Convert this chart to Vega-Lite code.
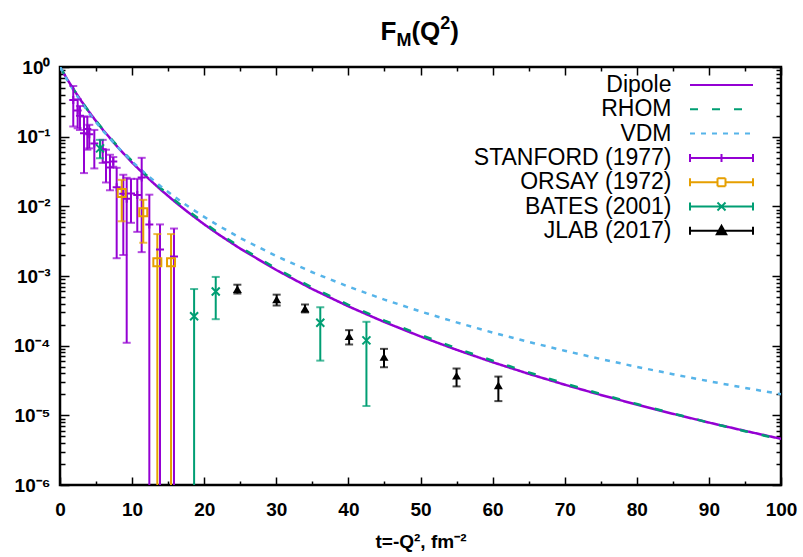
{
  "$schema": "https://vega.github.io/schema/vega-lite/v6.json",
  "width": 721,
  "height": 418,
  "autosize": "none",
  "padding": {"left": 60, "top": 67, "right": 22, "bottom": 72},
  "background": "white",
  "datasets": {
    "curves": [
      {"series": "Dipole", "t": 0, "F": 1},
      {"series": "Dipole", "t": 1, "F": 0.6676},
      {"series": "Dipole", "t": 2, "F": 0.4572},
      {"series": "Dipole", "t": 3, "F": 0.3205},
      {"series": "Dipole", "t": 4, "F": 0.2293},
      {"series": "Dipole", "t": 5, "F": 0.1670},
      {"series": "Dipole", "t": 6, "F": 0.1237},
      {"series": "Dipole", "t": 8, "F": 0.07073},
      {"series": "Dipole", "t": 10, "F": 0.04249},
      {"series": "Dipole", "t": 12, "F": 0.02658},
      {"series": "Dipole", "t": 14, "F": 0.01722},
      {"series": "Dipole", "t": 16, "F": 0.01149},
      {"series": "Dipole", "t": 18, "F": 0.007871},
      {"series": "Dipole", "t": 20, "F": 0.005517},
      {"series": "Dipole", "t": 22, "F": 0.003947},
      {"series": "Dipole", "t": 25, "F": 0.002470},
      {"series": "Dipole", "t": 30, "F": 0.001218},
      {"series": "Dipole", "t": 35, "F": 0.0006483},
      {"series": "Dipole", "t": 40, "F": 0.0003668},
      {"series": "Dipole", "t": 45, "F": 0.0002183},
      {"series": "Dipole", "t": 50, "F": 0.0001356},
      {"series": "Dipole", "t": 55, "F": 0.00008722},
      {"series": "Dipole", "t": 60, "F": 0.00005789},
      {"series": "Dipole", "t": 65, "F": 0.00003946},
      {"series": "Dipole", "t": 70, "F": 0.00002754},
      {"series": "Dipole", "t": 75, "F": 0.00001963},
      {"series": "Dipole", "t": 80, "F": 0.00001425},
      {"series": "Dipole", "t": 85, "F": 0.00001052},
      {"series": "Dipole", "t": 90, "F": 0.000007878},
      {"series": "Dipole", "t": 95, "F": 0.000005984},
      {"series": "Dipole", "t": 100, "F": 0.0000046},
      {"series": "RHOM", "t": 0, "F": 1},
      {"series": "RHOM", "t": 1, "F": 0.6676},
      {"series": "RHOM", "t": 2, "F": 0.4572},
      {"series": "RHOM", "t": 3, "F": 0.3205},
      {"series": "RHOM", "t": 4, "F": 0.2293},
      {"series": "RHOM", "t": 5, "F": 0.1690},
      {"series": "RHOM", "t": 6, "F": 0.1260},
      {"series": "RHOM", "t": 8, "F": 0.0725},
      {"series": "RHOM", "t": 10, "F": 0.0445},
      {"series": "RHOM", "t": 12, "F": 0.0279},
      {"series": "RHOM", "t": 14, "F": 0.01808},
      {"series": "RHOM", "t": 16, "F": 0.01206},
      {"series": "RHOM", "t": 18, "F": 0.00826},
      {"series": "RHOM", "t": 20, "F": 0.00579},
      {"series": "RHOM", "t": 22, "F": 0.004145},
      {"series": "RHOM", "t": 25, "F": 0.002594},
      {"series": "RHOM", "t": 30, "F": 0.001279},
      {"series": "RHOM", "t": 35, "F": 0.0006807},
      {"series": "RHOM", "t": 40, "F": 0.0003851},
      {"series": "RHOM", "t": 45, "F": 0.0002292},
      {"series": "RHOM", "t": 50, "F": 0.0001424},
      {"series": "RHOM", "t": 55, "F": 0.00009158},
      {"series": "RHOM", "t": 60, "F": 0.00006078},
      {"series": "RHOM", "t": 65, "F": 0.00004143},
      {"series": "RHOM", "t": 70, "F": 0.00002864},
      {"series": "RHOM", "t": 75, "F": 0.00002022},
      {"series": "RHOM", "t": 80, "F": 0.00001454},
      {"series": "RHOM", "t": 85, "F": 0.00001063},
      {"series": "RHOM", "t": 90, "F": 0.000007878},
      {"series": "RHOM", "t": 95, "F": 0.000005924},
      {"series": "RHOM", "t": 100, "F": 0.0000045},
      {"series": "VDM", "t": 0, "F": 1},
      {"series": "VDM", "t": 1, "F": 0.6507},
      {"series": "VDM", "t": 2, "F": 0.4395},
      {"series": "VDM", "t": 3, "F": 0.3062},
      {"series": "VDM", "t": 4, "F": 0.2193},
      {"series": "VDM", "t": 5, "F": 0.1606},
      {"series": "VDM", "t": 6, "F": 0.1201},
      {"series": "VDM", "t": 8, "F": 0.07057},
      {"series": "VDM", "t": 10, "F": 0.04388},
      {"series": "VDM", "t": 12, "F": 0.02855},
      {"series": "VDM", "t": 14, "F": 0.01929},
      {"series": "VDM", "t": 16, "F": 0.01344},
      {"series": "VDM", "t": 18, "F": 0.009623},
      {"series": "VDM", "t": 20, "F": 0.00705},
      {"series": "VDM", "t": 22, "F": 0.00527},
      {"series": "VDM", "t": 25, "F": 0.003518},
      {"series": "VDM", "t": 30, "F": 0.001926},
      {"series": "VDM", "t": 35, "F": 0.001132},
      {"series": "VDM", "t": 40, "F": 0.0007041},
      {"series": "VDM", "t": 45, "F": 0.0004581},
      {"series": "VDM", "t": 50, "F": 0.0003094},
      {"series": "VDM", "t": 55, "F": 0.0002158},
      {"series": "VDM", "t": 60, "F": 0.0001544},
      {"series": "VDM", "t": 65, "F": 0.0001131},
      {"series": "VDM", "t": 70, "F": 0.00008455},
      {"series": "VDM", "t": 75, "F": 0.00006432},
      {"series": "VDM", "t": 80, "F": 0.00004969},
      {"series": "VDM", "t": 85, "F": 0.00003896},
      {"series": "VDM", "t": 90, "F": 0.0000309},
      {"series": "VDM", "t": 95, "F": 0.0000248},
      {"series": "VDM", "t": 100, "F": 0.00002011}
    ],
    "points": [
      {"series": "STANFORD (1977)", "t": 1.84, "F": 0.337, "lo": 0.14, "hi": 0.534},
      {"series": "STANFORD (1977)", "t": 2.45, "F": 0.238, "lo": 0.132, "hi": 0.344},
      {"series": "STANFORD (1977)", "t": 2.77, "F": 0.2, "lo": 0.125, "hi": 0.276},
      {"series": "STANFORD (1977)", "t": 3.33, "F": 0.112, "lo": 0.03, "hi": 0.194},
      {"series": "STANFORD (1977)", "t": 3.79, "F": 0.129, "lo": 0.065, "hi": 0.194},
      {"series": "STANFORD (1977)", "t": 4.06, "F": 0.108, "lo": 0.068, "hi": 0.148},
      {"series": "STANFORD (1977)", "t": 4.76, "F": 0.08, "lo": 0.035, "hi": 0.125},
      {"series": "STANFORD (1977)", "t": 5.92, "F": 0.066, "lo": 0.042, "hi": 0.09},
      {"series": "STANFORD (1977)", "t": 6.38, "F": 0.043, "lo": 0.022, "hi": 0.065},
      {"series": "STANFORD (1977)", "t": 6.93, "F": 0.036, "lo": 0.017, "hi": 0.055},
      {"series": "STANFORD (1977)", "t": 7.39, "F": 0.044, "lo": 0.037, "hi": 0.051},
      {"series": "STANFORD (1977)", "t": 7.86, "F": 0.0188, "lo": 0.0018, "hi": 0.0357},
      {"series": "STANFORD (1977)", "t": 8.78, "F": 0.0152, "lo": 0.002, "hi": 0.0284},
      {"series": "STANFORD (1977)", "t": 9.25, "F": 0.0129, "lo": 0.00011, "hi": 0.0257},
      {"series": "STANFORD (1977)", "t": 9.85, "F": 0.0153, "lo": 0.0058, "hi": 0.0248},
      {"series": "STANFORD (1977)", "t": 10.72, "F": 0.0146, "lo": 0.0043, "hi": 0.0248},
      {"series": "STANFORD (1977)", "t": 11.33, "F": 0.026, "lo": 0.0022, "hi": 0.0497},
      {"series": "STANFORD (1977)", "t": 12.39, "F": 0.0055, "lo": 0.00000001, "hi": 0.0147},
      {"series": "STANFORD (1977)", "t": 13.87, "F": 0.0024, "lo": 0.00000001, "hi": 0.0055},
      {"series": "STANFORD (1977)", "t": 15.81, "F": 0.0019, "lo": 0.00000001, "hi": 0.0048},
      {"series": "ORSAY (1972)", "t": 8.56, "F": 0.0155, "lo": 0.0061, "hi": 0.024},
      {"series": "ORSAY (1972)", "t": 11.55, "F": 0.0082, "lo": 0.003, "hi": 0.0124},
      {"series": "ORSAY (1972)", "t": 13.5, "F": 0.00157, "lo": 0.00000001, "hi": 0.004},
      {"series": "ORSAY (1972)", "t": 15.4, "F": 0.00157, "lo": 0.00000001, "hi": 0.004},
      {"series": "BATES (2001)", "t": 5.55, "F": 0.068, "lo": 0.049, "hi": 0.09},
      {"series": "BATES (2001)", "t": 18.6, "F": 0.000265, "lo": 0.00000001, "hi": 0.00065},
      {"series": "BATES (2001)", "t": 21.6, "F": 0.0006, "lo": 0.00024, "hi": 0.00097},
      {"series": "BATES (2001)", "t": 36.1, "F": 0.000213, "lo": 0.000061, "hi": 0.000356},
      {"series": "BATES (2001)", "t": 42.5, "F": 0.000119, "lo": 0.0000136, "hi": 0.00022},
      {"series": "JLAB (2017)", "t": 24.6, "F": 0.00065, "lo": 0.00056, "hi": 0.00075},
      {"series": "JLAB (2017)", "t": 30.05, "F": 0.00046, "lo": 0.000377, "hi": 0.00054},
      {"series": "JLAB (2017)", "t": 33.98, "F": 0.00034, "lo": 0.0003, "hi": 0.00039},
      {"series": "JLAB (2017)", "t": 40.1, "F": 0.000137, "lo": 0.000104, "hi": 0.000167},
      {"series": "JLAB (2017)", "t": 44.94, "F": 0.000069, "lo": 0.000049, "hi": 0.00009},
      {"series": "JLAB (2017)", "t": 55.0, "F": 0.000037, "lo": 0.000026, "hi": 0.000047},
      {"series": "JLAB (2017)", "t": 60.8, "F": 0.000027, "lo": 0.000016, "hi": 0.000036}
    ]
  },
  "layer": [
    {
      "data": {"name": "curves"},
      "mark": {"type": "line", "strokeWidth": 2.5, "clip": true},
      "encoding": {
        "x": {"field": "t", "type": "quantitative",
          "scale": {"domain": [0, 100], "nice": false, "zero": false},
          "axis": {"orient": "bottom", "values": [0, 10, 20, 30, 40, 50, 60, 70, 80, 90, 100], "tickSize": -8, "labelPadding": 23, "labelFlush": false, "title": "t=-Q², fm⁻²", "titlePadding": 13, "titleFontSize": 19}},
        "y": {"field": "F", "type": "quantitative",
          "scale": {"type": "log", "domain": [0.000001, 1], "nice": false},
          "axis": {"orient": "left", "values": [0.000001, 0.00001, 0.0001, 0.001, 0.01, 0.1, 1], "tickSize": -9, "labelPadding": 19, "title": null, "labelFontSize": 19,
            "labelExpr": "'10' + ['⁰','⁻¹','⁻²','⁻³','⁻⁴','⁻⁵','⁻⁶'][round(-log(datum.value)/LN10)]"}},
        "color": {"field": "series", "type": "nominal",
          "scale": {"domain": ["Dipole", "RHOM", "VDM", "STANFORD (1977)", "ORSAY (1972)", "BATES (2001)", "JLAB (2017)"],
                    "range": ["#9400D3", "#009E73", "#56B4E9", "#9400D3", "#E69F00", "#009E73", "#000000"]},
          "legend": {"orient": "none", "legendX": 650, "legendY": 6.5, "title": null, "labelAlign": "right", "labelOffset": -61.5,
            "labelFont": "Liberation Sans", "labelFontSize": 23, "labelColor": "black", "labelLimit": 400,
            "symbolSize": 100, "symbolStrokeWidth": 2, "rowPadding": 0.3, "padding": 0,
            "encode": {"symbols": {"update": {
              "shape": {"signal": "datum.value === 'STANFORD (1977)' ? 'M-6.3,0H6.3M-6.3,-0.8V0.8M6.3,-0.8V0.8M0,-0.8V0.8' : datum.value === 'ORSAY (1972)' ? 'M-6.3,0H-0.8M0.8,0H6.3M-6.3,-0.8V0.8M6.3,-0.8V0.8M-0.8,-0.8H0.8M0.8,-0.8V0.8M0.8,0.8H-0.8M-0.8,0.8V-0.8' : datum.value === 'BATES (2001)' ? 'M-6.3,0H6.3M-6.3,-0.8V0.8M6.3,-0.8V0.8M-0.8,-0.8L0.8,0.8M-0.8,0.8L0.8,-0.8' : datum.value === 'JLAB (2017)' ? 'M-6.3,0H6.3M-6.3,-0.8V0.8M6.3,-0.8V0.8M0,-1L0.95,0.7H-0.95Z' : 'M-6.3,0H6.3'"},
              "strokeDash": {"signal": "datum.value === 'RHOM' ? [8, 14] : datum.value === 'VDM' ? [5, 6] : [1, 0]"},
              "fill": {"signal": "datum.value === 'JLAB (2017)' ? 'black' : 'transparent'"},
              "stroke": {"scale": "color", "field": "value"},
              "strokeWidth": {"value": 2},
              "opacity": {"value": 1}
            }}}}},
        "strokeDash": {"field": "series", "type": "nominal",
          "scale": {"domain": ["Dipole", "RHOM", "VDM"], "range": [[1, 0], [8, 14], [5, 6]]}, "legend": null}
      }
    },
    {
      "data": {"name": "points"},
      "mark": {"type": "rule", "strokeWidth": 2, "clip": true},
      "encoding": {
        "x": {"field": "t", "type": "quantitative",
          "axis": {"orient": "bottom", "values": [5, 15, 25, 35, 45, 55, 65, 75, 85, 95], "tickSize": -4, "labels": false, "title": null}},
        "y": {"field": "lo", "type": "quantitative",
          "axis": {"orient": "left", "tickSize": -5, "labels": false, "title": null,
            "values": [0.000002, 0.000003, 0.000004, 0.000005, 0.000006, 0.000007, 0.000008, 0.000009,
                       0.00002, 0.00003, 0.00004, 0.00005, 0.00006, 0.00007, 0.00008, 0.00009,
                       0.0002, 0.0003, 0.0004, 0.0005, 0.0006, 0.0007, 0.0008, 0.0009,
                       0.002, 0.003, 0.004, 0.005, 0.006, 0.007, 0.008, 0.009,
                       0.02, 0.03, 0.04, 0.05, 0.06, 0.07, 0.08, 0.09,
                       0.2, 0.3, 0.4, 0.5, 0.6, 0.7, 0.8, 0.9]}},
        "y2": {"field": "hi"},
        "color": {"field": "series", "type": "nominal", "legend": null}
      }
    },
    {
      "data": {"name": "points"},
      "mark": {"type": "tick", "orient": "horizontal", "size": 8, "thickness": 2, "clip": true},
      "encoding": {
        "x": {"field": "t", "type": "quantitative",
          "axis": {"orient": "top", "values": [0, 10, 20, 30, 40, 50, 60, 70, 80, 90, 100], "tickSize": -8, "labels": false, "title": null}},
        "y": {"field": "hi", "type": "quantitative",
          "axis": {"orient": "right", "values": [0.000001, 0.00001, 0.0001, 0.001, 0.01, 0.1, 1], "tickSize": -9, "labels": false, "title": null}},
        "color": {"field": "series", "type": "nominal", "legend": null}
      }
    },
    {
      "data": {"name": "points"},
      "mark": {"type": "tick", "orient": "horizontal", "size": 8, "thickness": 2, "clip": true},
      "encoding": {
        "x": {"field": "t", "type": "quantitative",
          "axis": {"orient": "top", "values": [5, 15, 25, 35, 45, 55, 65, 75, 85, 95], "tickSize": -4, "labels": false, "title": null}},
        "y": {"field": "lo", "type": "quantitative",
          "axis": {"orient": "right", "tickSize": -5, "labels": false, "title": null,
            "values": [0.000002, 0.000003, 0.000004, 0.000005, 0.000006, 0.000007, 0.000008, 0.000009,
                       0.00002, 0.00003, 0.00004, 0.00005, 0.00006, 0.00007, 0.00008, 0.00009,
                       0.0002, 0.0003, 0.0004, 0.0005, 0.0006, 0.0007, 0.0008, 0.0009,
                       0.002, 0.003, 0.004, 0.005, 0.006, 0.007, 0.008, 0.009,
                       0.02, 0.03, 0.04, 0.05, 0.06, 0.07, 0.08, 0.09,
                       0.2, 0.3, 0.4, 0.5, 0.6, 0.7, 0.8, 0.9]}},
        "color": {"field": "series", "type": "nominal", "legend": null}
      }
    },
    {
      "data": {"name": "points"},
      "transform": [{"filter": "datum.series !== 'JLAB (2017)'"}],
      "mark": {"type": "point", "filled": false, "strokeWidth": 2, "size": 64, "opacity": 1},
      "encoding": {
        "x": {"field": "t", "type": "quantitative", "axis": null},
        "y": {"field": "F", "type": "quantitative", "axis": null},
        "color": {"field": "series", "type": "nominal", "legend": null},
        "shape": {"field": "series", "type": "nominal",
          "scale": {"domain": ["STANFORD (1977)", "ORSAY (1972)", "BATES (2001)"],
                    "range": ["M-1,0H1M0,-1V1", "M-1,-1H1V1H-1Z", "M-1,-1L1,1M-1,1L1,-1"]},
          "legend": null}
      }
    },
    {
      "data": {"name": "points"},
      "transform": [{"filter": "datum.series === 'JLAB (2017)'"}],
      "mark": {"type": "point", "filled": true, "shape": "triangle-up", "size": 80, "opacity": 1},
      "encoding": {
        "x": {"field": "t", "type": "quantitative", "axis": null},
        "y": {"field": "F", "type": "quantitative", "axis": null},
        "color": {"field": "series", "type": "nominal", "legend": null}
      }
    },
    {
      "data": {"values": [{}]},
      "mark": {"type": "text", "text": "F", "font": "Liberation Sans", "fontWeight": "bold", "fontSize": 26, "align": "left", "baseline": "alphabetic", "dx": -40, "color": "black"},
      "encoding": {"x": {"datum": 50, "type": "quantitative", "axis": null}, "y": {"datum": 2.437, "type": "quantitative", "axis": null}}
    },
    {
      "data": {"values": [{}]},
      "mark": {"type": "text", "text": "M", "font": "Liberation Sans", "fontWeight": "bold", "fontSize": 18, "align": "left", "baseline": "alphabetic", "dx": -24.1, "dy": 6, "color": "black"},
      "encoding": {"x": {"datum": 50, "type": "quantitative", "axis": null}, "y": {"datum": 2.437, "type": "quantitative", "axis": null}}
    },
    {
      "data": {"values": [{}]},
      "mark": {"type": "text", "text": "(Q", "font": "Liberation Sans", "fontWeight": "bold", "fontSize": 26, "align": "left", "baseline": "alphabetic", "dx": -9.1, "color": "black"},
      "encoding": {"x": {"datum": 50, "type": "quantitative", "axis": null}, "y": {"datum": 2.437, "type": "quantitative", "axis": null}}
    },
    {
      "data": {"values": [{}]},
      "mark": {"type": "text", "text": "2", "font": "Liberation Sans", "fontWeight": "bold", "fontSize": 18, "align": "left", "baseline": "alphabetic", "dx": 19.8, "dy": -11, "color": "black"},
      "encoding": {"x": {"datum": 50, "type": "quantitative", "axis": null}, "y": {"datum": 2.437, "type": "quantitative", "axis": null}}
    },
    {
      "data": {"values": [{}]},
      "mark": {"type": "text", "text": ")", "font": "Liberation Sans", "fontWeight": "bold", "fontSize": 26, "align": "left", "baseline": "alphabetic", "dx": 29.8, "color": "black"},
      "encoding": {"x": {"datum": 50, "type": "quantitative", "axis": null}, "y": {"datum": 2.437, "type": "quantitative", "axis": null}}
    }
  ],
  "resolve": {"axis": {"x": "independent", "y": "independent"}},
  "config": {
    "view": {"stroke": "black", "strokeWidth": 2.5},
    "axis": {"domain": false, "grid": false, "tickColor": "black", "tickWidth": 1.5,
      "labelFont": "Liberation Sans", "labelFontWeight": "bold", "labelFontSize": 19, "labelColor": "black", "labelOverlap": false,
      "titleFont": "Liberation Sans", "titleFontWeight": "bold", "titleFontSize": 18, "titleColor": "black"}
  }
}
